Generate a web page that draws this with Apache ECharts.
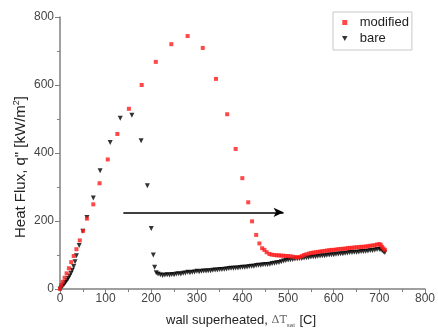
<!DOCTYPE html>
<html>
<head>
<meta charset="utf-8">
<script src="https://cdn.jsdelivr.net/npm/echarts@6/dist/echarts.min.js"></script>
<style>
html,body{margin:0;padding:0;background:#fff;}
#c{width:438px;height:334px;}
</style>
</head>
<body>
<div id="c"></div>
<script>
// ---- data ----
var modifiedX = [0, 2.2, 5.8, 10, 14.5, 19.5, 24.6, 30, 36, 43.4, 50.6, 59, 73, 86.7, 104.7, 125.7, 151, 179, 210, 244, 279.7, 312.9, 341.9, 366.4, 385, 399.6, 412.6, 421, 430, 437, 443, 448, 453, 459, 464, 470, 475, 480, 485, 490, 495, 500, 505, 510, 515, 520, 525, 530, 535, 540, 545, 550, 555, 560, 565, 570, 575, 580, 585, 590, 595, 600, 605, 610, 615, 620, 625, 630, 635, 640, 645, 650, 655, 660, 665, 670, 675, 680, 685, 690, 695, 700, 703, 706, 709, 712];
var modifiedY = [0, 11, 21, 33, 46, 61, 79, 97, 117, 143, 171, 207, 249, 311, 381, 456, 530, 600, 668, 720, 744, 709, 618, 514, 412, 326, 255, 199, 159, 134, 120, 115, 108, 103, 101, 100, 99, 99, 98, 98, 97, 97, 96, 95, 94, 93, 94, 97, 100, 102, 104, 106, 107, 108, 109, 110, 111, 112, 113, 114, 115, 115, 116, 117, 118, 118, 119, 120, 121, 121, 122, 123, 123, 124, 124, 125, 126, 127, 128, 129, 131, 132, 130, 124, 119, 115];

var bareX = [0, 3, 6, 9, 12, 15, 18, 21, 24, 27, 30, 33, 36, 42, 50, 59, 73, 88, 110, 132, 157.6, 177.8, 191.5, 200, 204.5, 207.4, 211, 215, 220, 225, 230, 235, 240, 245, 250, 255, 260, 265, 270, 275, 280, 285, 290, 295, 300, 305, 310, 315, 320, 325, 330, 335, 340, 345, 350, 355, 360, 365, 370, 375, 380, 385, 390, 395, 400, 405, 410, 415, 420, 425, 430, 435, 440, 445, 450, 455, 460, 465, 470, 475, 480, 485, 490, 495, 500, 505, 510, 515, 520, 525, 530, 535, 540, 545, 550, 555, 560, 565, 570, 575, 580, 585, 590, 595, 600, 605, 610, 615, 620, 625, 630, 635, 640, 645, 650, 655, 660, 665, 670, 675, 680, 685, 690, 695, 700, 703, 706, 709, 712];
var bareY = [0, 4, 9, 14, 19, 25, 31, 38, 46, 55, 66, 80, 98, 128, 170, 210, 268, 348, 431, 502, 511, 436, 304, 178, 100, 64, 48, 44, 42, 40, 41, 42, 41, 43, 42, 44, 45, 44, 46, 47, 49, 48, 49, 50, 52, 51, 52, 53, 53, 54, 54, 55, 56, 56, 57, 57, 58, 59, 60, 61, 61, 62, 62, 63, 64, 64, 65, 66, 67, 67, 69, 70, 70, 71, 72, 72, 73, 75, 76, 77, 78, 80, 82, 84, 85, 86, 87, 88, 89, 90, 90, 91, 92, 93, 94, 95, 95, 96, 97, 98, 98, 99, 100, 101, 101, 102, 103, 104, 104, 105, 106, 107, 107, 108, 108, 109, 110, 110, 111, 112, 113, 113, 115, 116, 117, 117, 113, 110, 107];

var arrowX = [138.8, 490];
var arrowY = [225.6, 225.6];

var xTicks = [0, 100, 200, 300, 400, 500, 600, 700, 800];
var yTicks = [0, 200, 400, 600, 800];

var seriesNames = ['modified', 'bare'];

function pairs(xs, ys) {
  var out = [];
  for (var i = 0; i < xs.length; i++) out.push([xs[i], ys[i]]);
  return out;
}

var chart = echarts.init(document.getElementById('c'), null, {renderer: 'canvas'});
var FONT = '"Liberation Sans", Arial, sans-serif';
var axisColor = '#808080';

var option = {
  animation: false,
  backgroundColor: '#ffffff',
  textStyle: {fontFamily: FONT},
  grid: {left: 60, right: 9, top: 17, bottom: 45, containLabel: false},
  legend: {
    orient: 'vertical',
    left: 333,
    top: 12,
    padding: [4, 3, 5, 9],
    itemGap: 3,
    itemWidth: 20,
    itemHeight: 5,
    symbolKeepAspect: true,
    borderColor: '#c8c8c8',
    borderWidth: 1,
    backgroundColor: '#fff',
    textStyle: {fontFamily: FONT, fontSize: 13, color: '#222'},
    data: [
      {name: seriesNames[0], icon: 'path://M0,0 L10,0 L10,10 L0,10 Z', itemStyle: {color: '#ff1a1a'}},
      {name: seriesNames[1], icon: 'path://M0,0 L10,0 L5,9 Z', itemStyle: {color: '#000'}}
    ]
  },
  xAxis: {
    type: 'value',
    min: xTicks[0],
    max: xTicks[xTicks.length - 1],
    interval: 100,
    axisLine: {show: true, onZero: false, lineStyle: {color: axisColor, width: 1.5}},
    axisTick: {show: true, length: 5, lineStyle: {color: axisColor, width: 1}},
    minorTick: {show: true, splitNumber: 2, length: 3, lineStyle: {color: axisColor, width: 1}},
    splitLine: {show: false},
    axisLabel: {fontFamily: FONT, fontSize: 12, color: '#444', margin: 4}
  },
  yAxis: {
    type: 'value',
    min: yTicks[0],
    max: yTicks[yTicks.length - 1],
    interval: 200,
    axisLine: {show: true, onZero: false, lineStyle: {color: axisColor, width: 1.5}},
    axisTick: {show: true, length: 5, lineStyle: {color: axisColor, width: 1}},
    minorTick: {show: true, splitNumber: 2, length: 3, lineStyle: {color: axisColor, width: 1}},
    splitLine: {show: false},
    axisLabel: {fontFamily: FONT, fontSize: 12, color: '#444', margin: 6}
  },
  graphic: [
    {
      type: 'text',
      left: 166,
      top: 314,
      style: {
        text: 'wall superheated, {d|ΔT}{s|sat} [C]',
        fontFamily: FONT,
        fontSize: 13,
        fill: '#222',
        rich: {
          d: {fontFamily: '"DejaVu Serif", serif', fontSize: 11, fill: '#666'},
          s: {fontFamily: FONT, fontSize: 6, fill: '#555', verticalAlign: 'bottom', padding: [9, 1, 0, 0]}
        }
      }
    },
    {
      type: 'text',
      x: 12,
      y: 238,
      rotation: Math.PI / 2,
      style: {
        text: 'Heat Flux, q" [kW/m{p|2}]',
        fontFamily: FONT,
        fontSize: 15,
        fill: '#222',
        rich: {
          p: {fontFamily: FONT, fontSize: 9, fill: '#222', verticalAlign: 'top', padding: [0, 0, 9, 0]}
        }
      }
    }
  ],
  series: [
    {
      name: seriesNames[0],
      type: 'scatter',
      symbol: 'rect',
      symbolSize: 4,
      itemStyle: {color: '#ff1a1a'},
      data: pairs(modifiedX, modifiedY),
      z: 3
    },
    {
      name: seriesNames[1],
      type: 'scatter',
      symbol: 'triangle',
      symbolRotate: 180,
      symbolSize: 5,
      itemStyle: {color: '#000000'},
      data: pairs(bareX, bareY),
      z: 2,
      markLine: {
        silent: true,
        symbol: ['none', 'arrow'],
        symbolSize: [7, 10],
        label: {show: false},
        lineStyle: {color: '#000', width: 1.5, type: 'solid'},
        data: [[
          {coord: [arrowX[0], arrowY[0]]},
          {coord: [arrowX[1], arrowY[1]]}
        ]]
      }
    }
  ]
};
chart.setOption(option);
</script>
</body>
</html>
